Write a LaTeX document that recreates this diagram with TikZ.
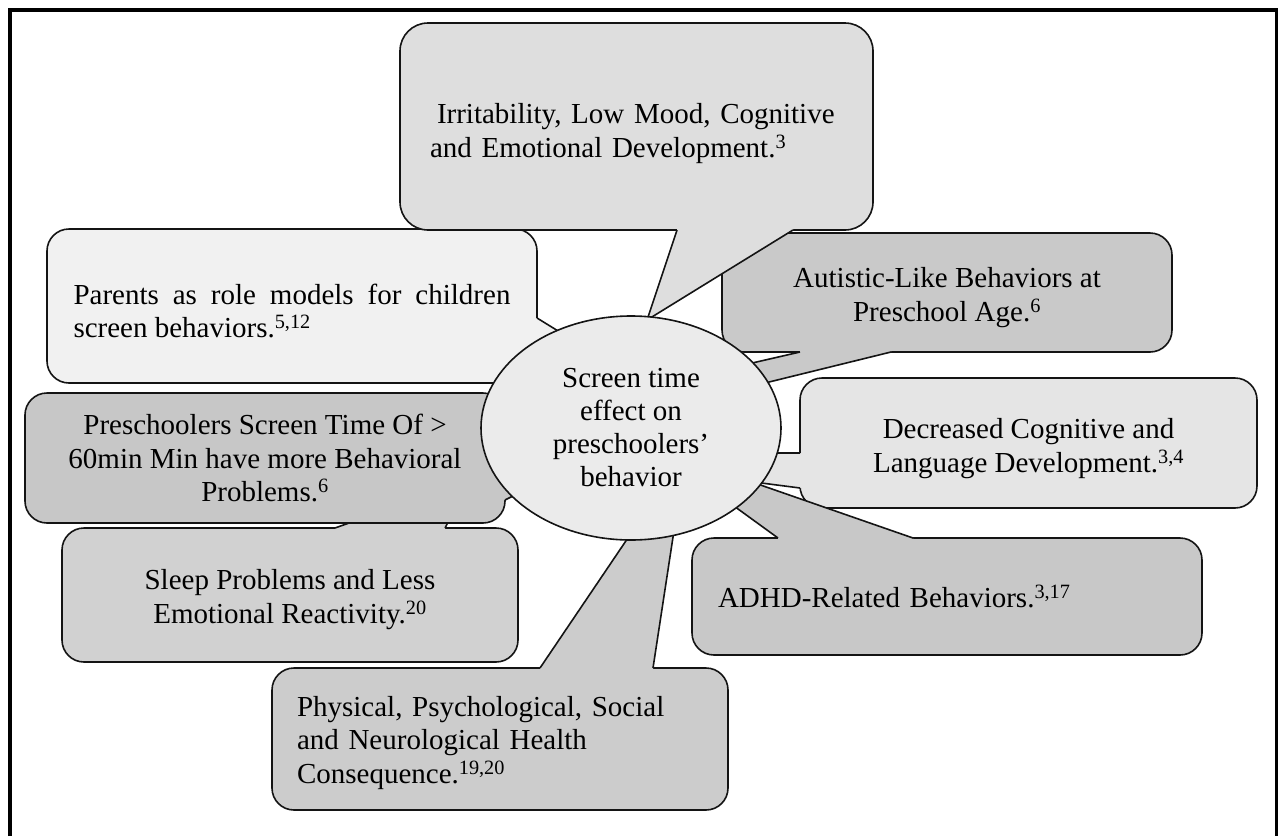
\documentclass[tikz,border=0pt]{standalone}
\usepackage{fontspec}
\setmainfont{Liberation Serif}
\usetikzlibrary{shapes.geometric}

\definecolor{fillTop}{HTML}{DEDEDE}
\definecolor{fillParents}{HTML}{F1F1F1}
\definecolor{fillAutistic}{HTML}{C9C9C9}
\definecolor{fillDecreased}{HTML}{E5E5E5}
\definecolor{fillPre}{HTML}{C7C7C7}
\definecolor{fillSleep}{HTML}{D1D1D1}
\definecolor{fillAdhd}{HTML}{C8C8C8}
\definecolor{fillPhys}{HTML}{CCCCCC}
\definecolor{fillCentre}{HTML}{EBEBEB}
\definecolor{inkline}{HTML}{141414}

% taller first line, pushes a text block slightly down inside its box
\newcommand{\firststrut}[1]{\rule{0pt}{#1}}

\begin{document}
\begin{tikzpicture}[x=1pt,y=-1pt,
  bubble/.style={draw=inkline, line width=1.6pt, rounded corners=22pt,
    inner ysep=0pt, inner xsep=0pt, font=\fontsize{29}{33.5}\selectfont, text=black},
  tailline/.style={draw=inkline, line width=1.6pt, line join=miter},
  centre/.style={draw=inkline, line width=1.6pt, ellipse, inner sep=0pt,
    align=center, font=\fontsize{29}{33}\selectfont, text=black}
]
\useasboundingbox (0,0) rectangle (1279,836);

% Sleep problems (its pointer runs up under the box above)
\node[bubble, fill=fillSleep, minimum width=456pt, minimum height=134pt, align=center]
  (sleep) at (290,595) {\firststrut{29pt}Sleep Problems and Less\\Emotional Reactivity.\textsuperscript{20}};
\coordinate (sleepA) at (335,528);
\coordinate (sleepB) at (445,528);
\coordinate (sleepTip) at (470,480);
\fill[fillSleep] (sleepA) -- (sleepTip) -- (sleepB) -- (445,532) -- (335,532) -- cycle;
\draw[tailline] (sleepA) -- (sleepTip) -- (sleepB);

% Preschoolers screen time
\node[bubble, fill=fillPre, minimum width=480pt, minimum height=130pt, align=center]
  (pre) at (265,458) {Preschoolers Screen Time Of >\\60min Min have more Behavioral\\Problems.\textsuperscript{6}};
\coordinate (preA) at (505,445);
\coordinate (preB) at (505,500);
\coordinate (preTip) at (565,470);
\fill[fillPre] (preA) -- (preTip) -- (preB) -- (501,500) -- (501,445) -- cycle;
\draw[tailline] (preA) -- (preTip) -- (preB);

% Parents as role models
\node[bubble, fill=fillParents, minimum width=490pt, minimum height=154pt,
  text width=437pt, inner xsep=26.5pt, align=justify]
  (parents) at (292,306) {\tolerance=10000 \firststrut{30pt}Parents as role models for children screen behaviors.\textsuperscript{5,12}};
\coordinate (parA) at (537,318);
\coordinate (parB) at (537,372);
\coordinate (parTip) at (615,366);
\fill[fillParents] (parA) -- (parTip) -- (parB) -- (533,372) -- (533,318) -- cycle;
\draw[tailline] (parA) -- (parTip) -- (parB);

% Health consequences
\node[bubble, fill=fillPhys, minimum width=456pt, minimum height=142pt,
  text width=406pt, inner xsep=25pt, align=left]
  (phys) at (500,739) {\firststrut{28pt}Physical, Psychological, Social\\and Neurological Health\\Consequence.\textsuperscript{19,20}};
\coordinate (physA) at (540,668);
\coordinate (physB) at (653,668);
\coordinate (physTip) at (686,452);
\fill[fillPhys] (physA) -- (physTip) -- (physB) -- (653,672) -- (540,672) -- cycle;
\draw[tailline] (physA) -- (physTip) -- (physB);

% Cognitive and language development
\node[bubble, fill=fillDecreased, minimum width=457pt, minimum height=130pt, align=center]
  (decr) at (1028.5,443) {\firststrut{31pt}Decreased Cognitive and\\Language Development.\textsuperscript{3,4}};
\coordinate (decA) at (800,453);
\coordinate (decB) at (800,488);
\coordinate (decTip) at (530,453);
\fill[fillDecreased] (decA) -- (decTip) -- (decB) -- (804,488) -- (804,453) -- cycle;
\draw[tailline] (decA) -- (decTip) -- (decB);

% ADHD
\node[bubble, fill=fillAdhd, minimum width=510pt, minimum height=117pt,
  text width=458pt, inner xsep=26pt, align=left]
  (adhd) at (947,596.5) {ADHD-Related Behaviors.\textsuperscript{3,17}};
\coordinate (adhdA) at (778,538);
\coordinate (adhdB) at (913,538);
\coordinate (adhdTip) at (654,448);
\fill[fillAdhd] (adhdA) -- (adhdTip) -- (adhdB) -- (913,542) -- (778,542) -- cycle;
\draw[tailline] (adhdA) -- (adhdTip) -- (adhdB);

% Autistic-like behaviours
\node[bubble, fill=fillAutistic, minimum width=450pt, minimum height=119pt, align=center]
  (aut) at (947,292.5) {\firststrut{30pt}Autistic-Like Behaviors at\\Preschool Age.\textsuperscript{6}};
\coordinate (autA) at (800,352);
\coordinate (autB) at (891,352);
\coordinate (autTipA) at (700,375);
\coordinate (autTipB) at (700,399);
\fill[fillAutistic] (autA) -- (autTipA) -- (autTipB) -- (autB) -- (891,348) -- (800,348) -- cycle;
\draw[tailline] (autA) -- (autTipA) -- (autTipB) -- (autB);

% Irritability and mood (its pointer overlaps the box on the right)
\node[bubble, fill=fillTop, rounded corners=28pt, minimum width=473pt, minimum height=207pt,
  text width=413pt, inner xsep=30pt, align=left]
  (irr) at (636.5,126.5) {\hspace{7pt}\firststrut{34pt}Irritability, Low Mood, Cognitive\\and Emotional Development.\textsuperscript{3}};
\coordinate (irrA) at (677,230);
\coordinate (irrB) at (793,230);
\coordinate (irrTip) at (647,320);
\fill[fillTop] (irrA) -- (irrTip) -- (irrB) -- (793,226) -- (677,226) -- cycle;
\draw[tailline] (irrA) -- (irrTip) -- (irrB);

% Central topic
\node[centre, fill=fillCentre, minimum width=300pt, minimum height=224pt]
  (hub) at (631,428) {Screen time\\effect on\\preschoolers’\\behavior};

% Frame
\draw[line width=3.5pt, draw=black] (10,836) -- (10,10) -- (1276.5,10) -- (1276.5,836);
\end{tikzpicture}
\end{document}
